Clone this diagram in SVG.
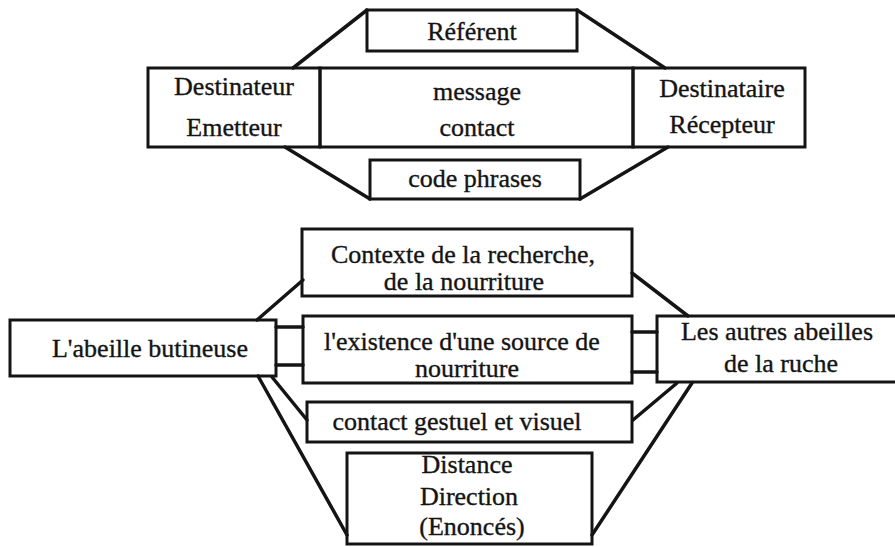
<svg xmlns="http://www.w3.org/2000/svg" width="895" height="547" viewBox="0 0 895 547">
<style>
.box{fill:none;stroke:#141414;stroke-width:3}
.ln{fill:none;stroke:#141414;stroke-width:3.5;stroke-linecap:round}
text{font-family:"Liberation Serif","Times New Roman",serif;font-size:26px;fill:#141414;stroke:#141414;stroke-width:0.35;text-anchor:middle}
</style>
<rect width="895" height="547" fill="#ffffff"/>
<g id="connectors">
<line class="ln" x1="367" y1="10" x2="293" y2="68"/>
<line class="ln" x1="577" y1="10" x2="665" y2="68"/>
<line class="ln" x1="285" y1="147" x2="370" y2="199"/>
<line class="ln" x1="668" y1="147" x2="580" y2="199"/>
<line class="ln" x1="257" y1="320" x2="303" y2="280"/>
<line class="ln" x1="632" y1="273" x2="688" y2="316"/>
<line class="ln" x1="276" y1="327" x2="303" y2="327"/>
<line class="ln" x1="276" y1="365" x2="303" y2="365"/>
<line class="ln" x1="632" y1="332" x2="657" y2="332"/>
<line class="ln" x1="632" y1="372" x2="657" y2="372"/>
<line class="ln" x1="272" y1="377" x2="307" y2="420"/>
<line class="ln" x1="258" y1="376" x2="347" y2="535"/>
<line class="ln" x1="633" y1="420" x2="677" y2="383"/>
<line class="ln" x1="592" y1="535" x2="692" y2="383"/>
</g>
<g id="referent">
<rect class="box" x="367" y="10" width="210" height="41"/>
<text x="472" y="40">Référent</text>
</g>
<g id="destinateur">
<rect class="box" x="148" y="68" width="172" height="79"/>
<text x="234" y="95">Destinateur</text>
<text x="234" y="136">Emetteur</text>
</g>
<g id="message">
<rect class="box" x="320" y="68" width="313" height="79"/>
<text x="477" y="100">message</text>
<text x="477" y="136">contact</text>
</g>
<g id="destinataire">
<rect class="box" x="633" y="68" width="172" height="79"/>
<text x="722" y="97">Destinataire</text>
<text x="722" y="133">Récepteur</text>
</g>
<g id="code">
<rect class="box" x="370" y="160" width="210" height="39"/>
<text x="475" y="187">code phrases</text>
</g>
<g id="contexte">
<rect class="box" x="302" y="229" width="330" height="67"/>
<text x="463" y="263">Contexte de la recherche,</text>
<text x="464" y="290">de la nourriture</text>
</g>
<g id="abeille">
<rect class="box" x="10" y="320" width="266" height="56"/>
<text x="150" y="357">L'abeille butineuse</text>
</g>
<g id="existence">
<rect class="box" x="303" y="316" width="329" height="67"/>
<text x="462" y="350">l'existence d'une source de</text>
<text x="467" y="377">nourriture</text>
</g>
<g id="autres">
<rect class="box" x="657" y="316" width="250" height="66"/>
<text x="777" y="340">Les autres abeilles</text>
<text x="781" y="372">de la ruche</text>
</g>
<g id="contact">
<rect class="box" x="307" y="402" width="325" height="40"/>
<text x="457" y="430">contact gestuel et visuel</text>
</g>
<g id="distance">
<rect class="box" x="347" y="453" width="245" height="91"/>
<text x="467" y="473">Distance</text>
<text x="469" y="505">Direction</text>
<text x="472" y="535">(Enoncés)</text>
</g>
</svg>
